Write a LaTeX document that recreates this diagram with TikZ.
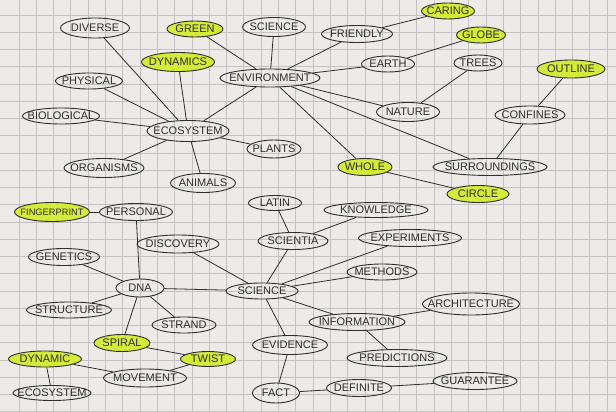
\documentclass[tikz,border=0pt]{standalone}
\usepackage{fontspec}
\setmainfont{Liberation Sans}
\usetikzlibrary{shapes.geometric}
\definecolor{paper}{HTML}{EDEAE8}
\definecolor{gridc}{HTML}{C6C2C1}
\definecolor{ink}{HTML}{2E2E2E}
\definecolor{hilite}{HTML}{D6EA3A}
\newcommand\zt[1]{\makebox[0pt]{#1}}
\tikzset{
  word/.style={draw=ink, ellipse, inner sep=0pt, line width=0.9pt, text=ink,
    font=\fontsize{11}{13}\selectfont},
  hl/.style={word, fill=hilite},
  link/.style={draw=ink, line width=0.8pt},
  gridline/.style={draw=gridc, line width=0.55pt}
}
\begin{document}
\begin{tikzpicture}[x=1pt,y=-1pt]
\useasboundingbox (0,0) rectangle (616,412);
\fill[paper] (0,0) rectangle (616,412);
\foreach \i in {0,...,35} \draw[gridline] ({18.8+17.3*\i},0) -- ({18.8+17.3*\i},412);
\foreach \k in {0,...,23} \draw[gridline] (0,{15+17.25*\k}) -- (616,{15+17.25*\k});

% top cluster
\node[word, minimum width=69pt, minimum height=20pt] (diverse) at (95,28) {\zt{DIVERSE}};
\node[hl, minimum width=56pt, minimum height=16pt] (green) at (195,29) {\zt{GREEN}};
\node[word, minimum width=63pt, minimum height=19pt] (sciencetop) at (274,27) {\zt{SCIENCE}};
\node[hl, minimum width=73pt, minimum height=19pt] (dynamics) at (178,62) {\zt{DYNAMICS}};
\node[word, minimum width=67pt, minimum height=16pt] (physical) at (89,81) {\zt{PHYSICAL}};
\node[word, minimum width=100pt, minimum height=18pt] (environment) at (270,78) {\zt{ENVIRONMENT}};
\node[word, minimum width=77pt, minimum height=16pt] (biological) at (61,116) {\zt{BIOLOGICAL}};
\node[word, minimum width=82pt, minimum height=21pt] (ecosystem) at (188,131) {\zt{ECOSYSTEM}};
\node[word, minimum width=54pt, minimum height=18pt] (plants) at (274,149) {\zt{PLANTS}};
\node[word, minimum width=80pt, minimum height=19pt] (organisms) at (104,168) {\zt{ORGANISMS}};
\node[word, minimum width=65pt, minimum height=19pt] (animals) at (203,183) {\zt{ANIMALS}};
\node[hl, minimum width=53pt, minimum height=16pt] (caring) at (448,11) {\zt{CARING}};
\node[word, minimum width=71pt, minimum height=17pt] (friendly) at (357,34) {\zt{FRIENDLY}};
\node[hl, minimum width=49pt, minimum height=16pt] (globe) at (481,35) {\zt{GLOBE}};
\node[word, minimum width=53pt, minimum height=16pt] (earth) at (388,64) {\zt{EARTH}};
\node[word, minimum width=48pt, minimum height=16pt] (trees) at (478,63) {\zt{TREES}};
\node[hl, minimum width=68pt, minimum height=18pt] (outline) at (571,69) {\zt{OUTLINE}};
\node[word, minimum width=63pt, minimum height=19pt] (nature) at (408,112) {\zt{NATURE}};
\node[word, minimum width=70pt, minimum height=18pt] (confines) at (530,115) {\zt{CONFINES}};
\node[hl, minimum width=54pt, minimum height=17pt] (whole) at (365,167) {\zt{WHOLE}};
\node[word, minimum width=114pt, minimum height=17pt] (surroundings) at (490,167) {\zt{SURROUNDINGS}};
\node[hl, minimum width=62pt, minimum height=17pt] (circle) at (478,194) {\zt{CIRCLE}};

% bottom cluster
\node[hl, minimum width=75pt, minimum height=19pt, font=\fontsize{9.3}{11}\selectfont] (fingerprint) at (52,212) {\zt{FINGERPRINT}};
\node[word, minimum width=73pt, minimum height=17pt] (personal) at (136,212) {\zt{PERSONAL}};
\node[word, minimum width=53pt, minimum height=15pt] (latin) at (275,203) {\zt{LATIN}};
\node[word, minimum width=104pt, minimum height=15pt] (knowledge) at (376,210) {\zt{KNOWLEDGE}};
\node[word, minimum width=70pt, minimum height=17pt] (scientia) at (293,241) {\zt{SCIENTIA}};
\node[word, minimum width=82pt, minimum height=18pt] (discovery) at (178,244) {\zt{DISCOVERY}};
\node[word, minimum width=103pt, minimum height=17pt] (experiments) at (410,238) {\zt{EXPERIMENTS}};
\node[word, minimum width=71pt, minimum height=17pt] (genetics) at (64,257) {\zt{GENETICS}};
\node[word, minimum width=48pt, minimum height=18pt] (dna) at (140,288) {\zt{DNA}};
\node[word, minimum width=72pt, minimum height=16pt] (science) at (262,291) {\zt{SCIENCE}};
\node[word, minimum width=70pt, minimum height=16pt] (methods) at (382,272) {\zt{METHODS}};
\node[word, minimum width=85pt, minimum height=16pt] (structure) at (69,310) {\zt{STRUCTURE}};
\node[word, minimum width=64pt, minimum height=16pt] (strand) at (184,325) {\zt{STRAND}};
\node[word, minimum width=97pt, minimum height=22pt] (architecture) at (471,304) {\zt{ARCHITECTURE}};
\node[word, minimum width=96pt, minimum height=17pt] (information) at (357,322) {\zt{INFORMATION}};
\node[hl, minimum width=56pt, minimum height=17pt] (spiral) at (122,343) {\zt{SPIRAL}};
\node[hl, minimum width=55pt, minimum height=15pt] (twist) at (208,359) {\zt{TWIST}};
\node[word, minimum width=75pt, minimum height=19pt] (evidence) at (290,345) {\zt{EVIDENCE}};
\node[word, minimum width=100pt, minimum height=17pt] (predictions) at (397,358) {\zt{PREDICTIONS}};
\node[hl, minimum width=73pt, minimum height=16pt] (dynamic) at (45,359) {\zt{DYNAMIC}};
\node[word, minimum width=83pt, minimum height=18pt] (movement) at (145,378) {\zt{MOVEMENT}};
\node[word, minimum width=78pt, minimum height=15pt] (ecosystemb) at (52,393) {\zt{ECOSYSTEM}};
\node[word, minimum width=47pt, minimum height=20pt] (fact) at (276,393) {\zt{FACT}};
\node[word, minimum width=65pt, minimum height=17pt] (definite) at (359,388) {\zt{DEFINITE}};
\node[word, minimum width=84pt, minimum height=17pt] (guarantee) at (475,381) {\zt{GUARANTEE}};

% connectors, top
\foreach \a in {diverse,dynamics,physical,biological,organisms,animals,plants,environment}
  \draw[link] (\a) -- (ecosystem);
\foreach \a in {green,sciencetop,friendly,earth,nature,surroundings,whole}
  \draw[link] (\a) -- (environment);
\draw[link] (caring) -- (friendly);
\draw[link] (globe) -- (earth);
\draw[link] (trees) -- (nature);
\draw[link] (confines) -- (surroundings);
\draw[link] (outline) -- (confines);
\draw[link] (circle) -- (whole);

% connectors, bottom
\draw[link] (fingerprint) -- (personal);
\foreach \a in {personal,genetics,structure,strand,spiral}
  \draw[link] (\a) -- (dna);
\draw[link] (spiral) -- (twist);
\draw[link] (twist) -- (movement);
\draw[link] (movement) -- (dynamic);
\draw[link] (dynamic) -- (ecosystemb);
\foreach \a in {dna,discovery,scientia,experiments,methods,information,evidence}
  \draw[link] (\a) -- (science);
\draw[link] (latin) -- (scientia);
\draw[link] (knowledge) -- (scientia);
\draw[link] (architecture) -- (information);
\draw[link] (predictions) -- (information);
\draw[link] (fact) -- (evidence);
\draw[link] (definite) -- (fact);
\draw[link] (guarantee) -- (definite);
\end{tikzpicture}
\end{document}
